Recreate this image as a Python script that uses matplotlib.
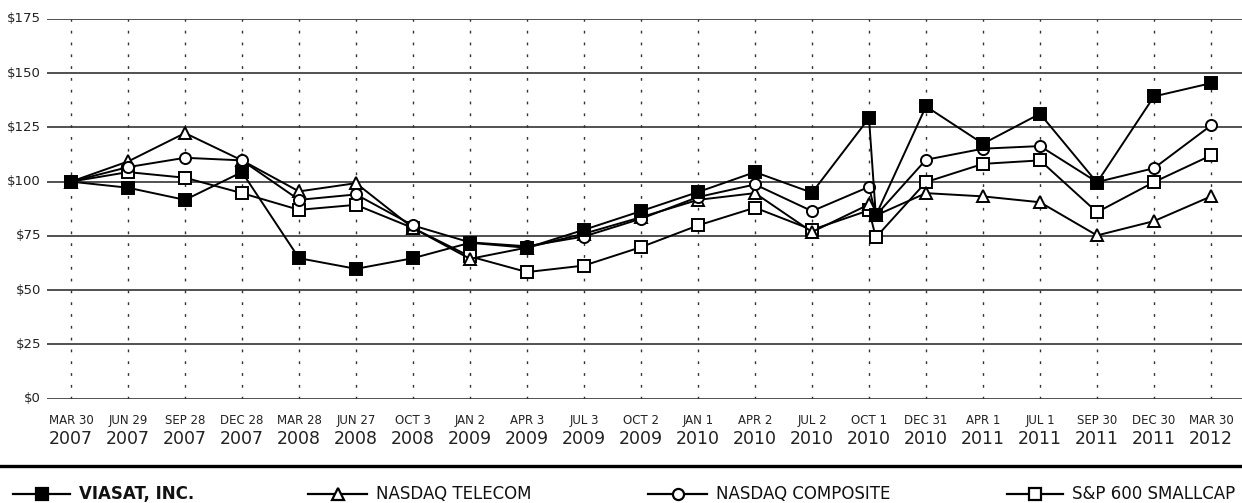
import matplotlib
matplotlib.use('Agg')
import matplotlib.pyplot as plt
from matplotlib.lines import Line2D

plt.rcParams['font.family'] = ['Liberation Sans Narrow', 'DejaVu Sans']

months = ['MAR 30', 'JUN 29', 'SEP 28', 'DEC 28', 'MAR 28', 'JUN 27', 'OCT 3',
          'JAN 2', 'APR 3', 'JUL 3', 'OCT 2', 'JAN 1', 'APR 2', 'JUL 2', 'OCT 1',
          'DEC 31', 'APR 1', 'JUL 1', 'SEP 30', 'DEC 30', 'MAR 30']
years = ['2007', '2007', '2007', '2007', '2008', '2008', '2008', '2009', '2009', '2009',
         '2009', '2010', '2010', '2010', '2010', '2010', '2011', '2011', '2011', '2011', '2012']

# x position of each point (the extra point just after OCT 1 2010 is in the source chart)
x_pts = [0, 1, 2, 3, 4, 5, 6, 7, 8, 9, 10, 11, 12, 13, 14, 14.12,
         15, 16, 17, 18, 19, 20]

viasat = [100, 97.2, 91.6, 104.4, 64.7, 59.8, 64.7, 71.8, 69.5, 77.8, 86.4, 95.2,
          104.4, 94.9, 129.3, 84.4, 134.7, 117.5, 131.3, 99.6, 139.3, 145.4]
telecom = [100, 109.3, 122.4, 109.8, 95.5, 99.3, 78.6, 64.4, 69.6, 76.0, 83.6, 91.6,
           94.7, 76.8, 89.5, 84.4, 94.7, 93.2, 90.5, 75.2, 81.8, 93.2]
composite = [100, 106.7, 111.0, 109.8, 91.6, 94.1, 79.8, 72.0, 70.2, 74.7, 82.9, 92.9,
             98.7, 86.4, 97.6, 84.4, 110.1, 115.2, 116.4, 99.8, 106.2, 125.9]
smallcap = [100, 104.4, 101.8, 94.7, 87.0, 89.3, 78.6, 65.5, 58.3, 61.3, 69.8, 79.8,
            88.0, 77.8, 86.8, 74.3, 99.8, 108.2, 109.8, 85.9, 99.8, 112.1]

y_ticks = [0, 25, 50, 75, 100, 125, 150, 175]

W, H = 1242, 503
fig = plt.figure(figsize=(W / 100, H / 100), dpi=100)
ax = fig.add_axes([47 / W, (H - 398.5) / H, (W - 47) / W, 379.5 / H])

# horizontal and dotted vertical grid
for v in y_ticks:
    ax.axhline(v, color='#222222', lw=1.1, zorder=1)
for i in range(len(months)):
    ax.axvline(i, color='#333333', lw=1.0, linestyle=(0, (2, 6.5)), zorder=1)

series = [
    (smallcap, 's', 8.0, 'white'),
    (telecom, '^', 9.0, 'white'),
    (composite, 'o', 8.0, 'white'),
    (viasat, 's', 8.5, 'black'),
]
for k, (vals, mk, ms, fc) in enumerate(series):
    ax.plot(x_pts, vals, color='black', lw=1.4, marker=mk, markersize=ms,
            markerfacecolor=fc, markeredgecolor='black', markeredgewidth=1.4,
            zorder=3 + k)

ax.set_xlim((47 - 71) / 57, (W - 71) / 57)
ax.set_ylim(0, 175)
for s in ax.spines.values():
    s.set_visible(False)
ax.set_xticks([])
ax.set_yticks([])

for v in y_ticks:
    ax.text(-0.005, v, f'${v}', transform=ax.get_yaxis_transform(),
            ha='right', va='center', fontsize=9.5, color='#222222')

trans = ax.get_xaxis_transform()
for i, (m, yr) in enumerate(zip(months, years)):
    ax.text(i, -0.059, m, transform=trans, ha='center', va='center',
            fontsize=8.5, color='#222222')
    ax.text(i, -0.107, yr, transform=trans, ha='center', va='center',
            fontsize=12.5, color='#222222')

# thick rule above the legend
fig.add_artist(Line2D([0, 1], [1 - 466 / H] * 2, color='black', lw=2.4))

# legend row
ly = 1 - 494 / H
legend_items = [
    (13, 70, 's', 'black', 'VIASAT, INC.', 'bold'),
    (308, 367, '^', 'white', 'NASDAQ TELECOM', 'normal'),
    (648, 707, 'o', 'white', 'NASDAQ COMPOSITE', 'normal'),
    (1007, 1063, 's', 'white', 'S&P 600 SMALLCAP', 'normal'),
]
for x0, x1, mk, fc, label, weight in legend_items:
    fig.add_artist(Line2D([x0 / W, (x0 + x1) / 2 / W, x1 / W], [ly] * 3,
                          color='black', lw=1.6, marker=mk, markevery=[1],
                          markersize=8, markerfacecolor=fc,
                          markeredgecolor='black', markeredgewidth=1.6))
    fig.text((x1 + 9) / W, ly, label, ha='left', va='center', fontsize=12,
             fontweight=weight, color='#111111')

fig.savefig('out.png', dpi=100)
